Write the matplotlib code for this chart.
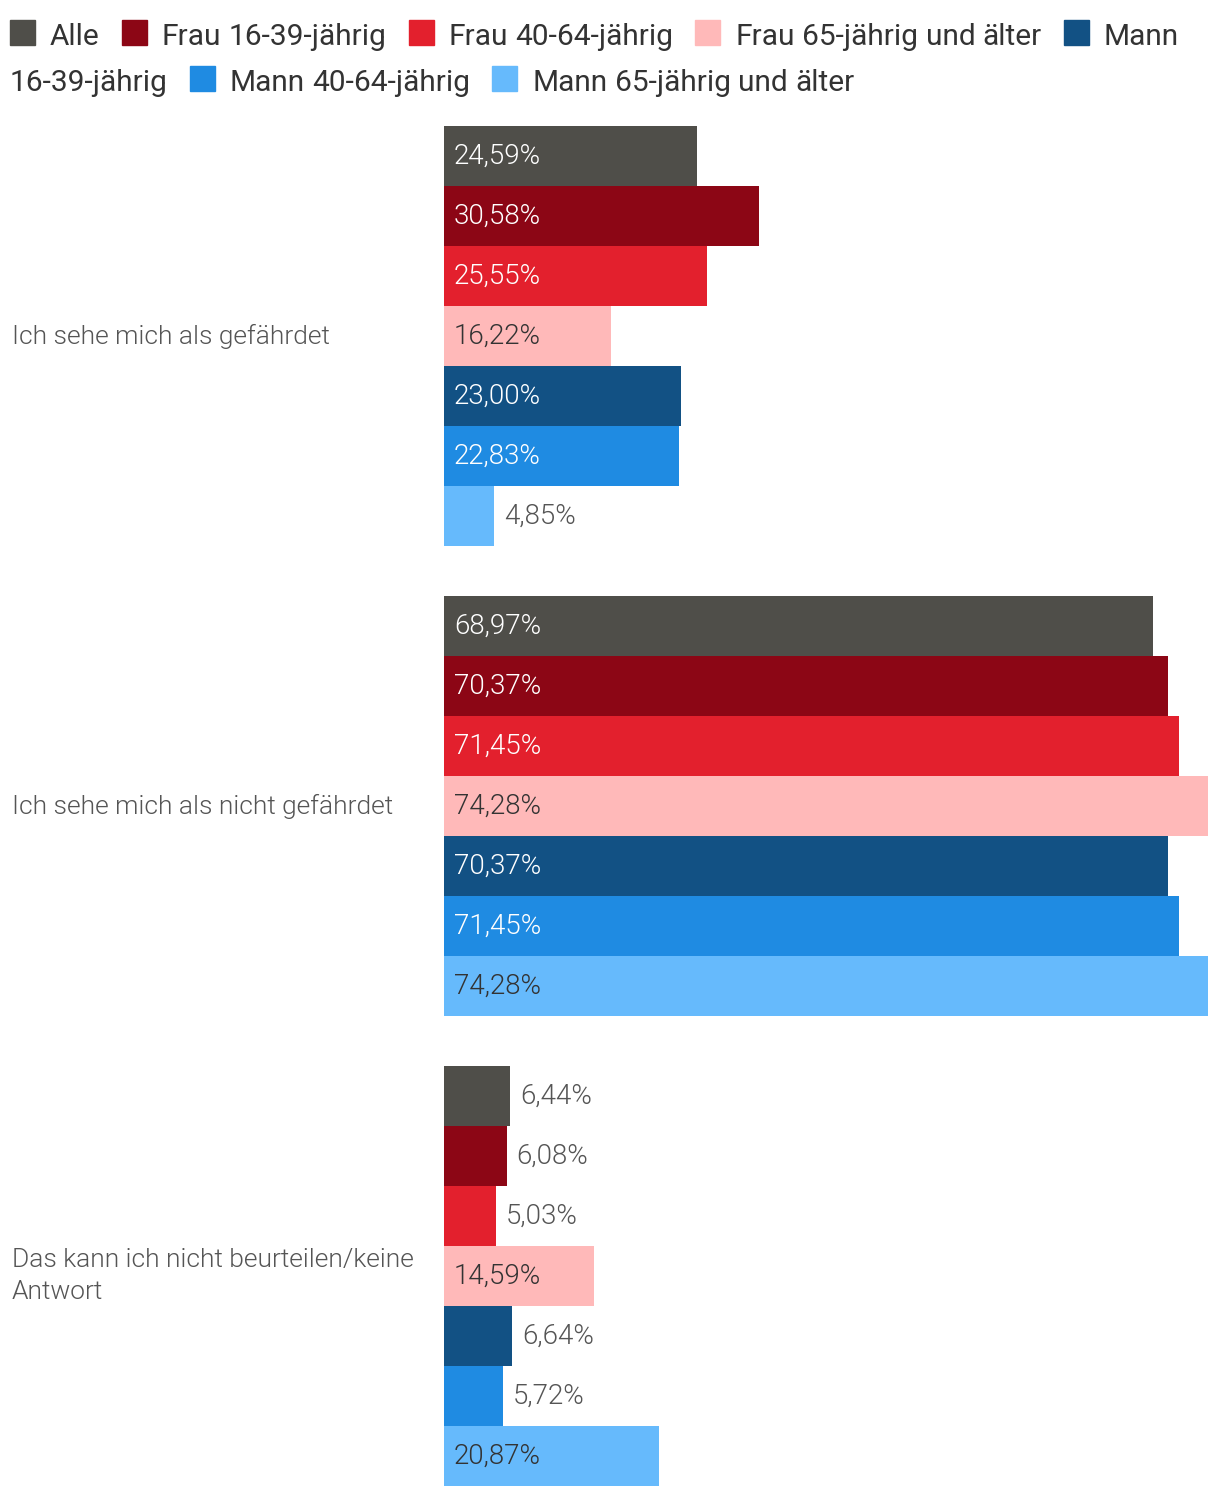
import numpy as np
import matplotlib
matplotlib.use("Agg")
import matplotlib.pyplot as plt
from matplotlib.patches import Rectangle
from matplotlib.transforms import blended_transform_factory

plt.rcParams['font.family'] = ['Roboto', 'DejaVu Sans']
plt.rcParams['font.weight'] = 300

# data
categories = ["Ich sehe mich als gefährdet",
              "Ich sehe mich als nicht gefährdet",
              "Das kann ich nicht beurteilen/keine\nAntwort"]
series = ["Alle", "Frau 16-39-jährig", "Frau 40-64-jährig", "Frau 65-jährig und älter",
          "Mann 16-39-jährig", "Mann 40-64-jährig", "Mann 65-jährig und älter"]
alle = [24.59, 68.97, 6.44]
frau_16_39 = [30.58, 70.37, 6.08]
frau_40_64 = [25.55, 71.45, 5.03]
frau_65 = [16.22, 74.28, 14.59]
mann_16_39 = [23.00, 70.37, 6.64]
mann_40_64 = [22.83, 71.45, 5.72]
mann_65 = [4.85, 74.28, 20.87]
values = [alle, frau_16_39, frau_40_64, frau_65, mann_16_39, mann_40_64, mann_65]

colors = ["#4f4e49", "#8c0615", "#e3202d", "#ffb9b9", "#125184", "#1f8be2", "#66bafc"]
inside_text = ["white", "white", "white", "#333333", "white", "white", "#333333"]

W, H = 1220, 1498
fig = plt.figure(figsize=(W / 100, H / 100), dpi=100)

# plot area in pixels
left, right, top, bottom = 444, 1208, 126, 1486
ax = fig.add_axes([left / W, (H - bottom) / H, (right - left) / W, (bottom - top) / H])

n = len(series)
group = 420 / 470.0
bh = group / n
y = np.arange(len(categories))
for i, (vals, c) in enumerate(zip(values, colors)):
    pos = y - group / 2 + bh * (i + 0.5)
    ax.barh(pos, vals, height=bh, color=c, linewidth=0)
    for p, v in zip(pos, vals):
        txt = f"{v:.2f}".replace(".", ",") + "%"
        if v >= 10:
            ax.annotate(txt, (0, p), xytext=(10, 0), textcoords="offset pixels",
                        va="center", ha="left", fontsize=20, color=inside_text[i])
        else:
            ax.annotate(txt, (v, p), xytext=(10, 0), textcoords="offset pixels",
                        va="center", ha="left", fontsize=20, color="#555555")

ax.set_xlim(0, max(max(v) for v in values))
ax.set_ylim(len(categories) - 1 + group / 2, -group / 2)
ax.axis("off")

# category labels on the left
tr = blended_transform_factory(fig.transFigure, ax.transData)
for yi, cat in zip(y, categories):
    ax.text(12 / W, yi, cat, transform=tr, ha="left", va="center", fontsize=19,
            color="#555555", linespacing=1.45)

# legend as flowing text
renderer = fig.canvas.get_renderer()
lx0, lx_max = 10, 1212
rows = [45, 91]
box, box_gap, item_gap = 25, 15, 22
fs = 21.5


def text_w(s):
    t = fig.text(0, 0, s, fontsize=fs, fontweight="normal")
    w = t.get_window_extent(renderer).width
    t.remove()
    return w


space_w = text_w("a b") - text_w("ab")
x, row = lx0, 0
for label, c in zip(series, colors):
    words = label.split(" ")
    first = text_w(words[0])
    if x + box + box_gap + first > lx_max:
        x, row = lx0, row + 1
    base = rows[0] + (rows[1] - rows[0]) * row
    fig.patches.append(Rectangle((x / W, 1 - base / H), box / W, box / H,
                                 transform=fig.transFigure, color=c))
    x += box + box_gap
    for j, w in enumerate(words):
        ww = text_w(w)
        if j > 0:
            if x + space_w + ww > lx_max:
                x, row = lx0, row + 1
                base = rows[0] + (rows[1] - rows[0]) * row
            else:
                x += space_w
        fig.text(x / W, 1 - base / H, w, fontsize=fs, fontweight="normal",
                 color="#333333", ha="left", va="baseline")
        x += ww
    x += item_gap

fig.savefig("out.png", dpi=100)
